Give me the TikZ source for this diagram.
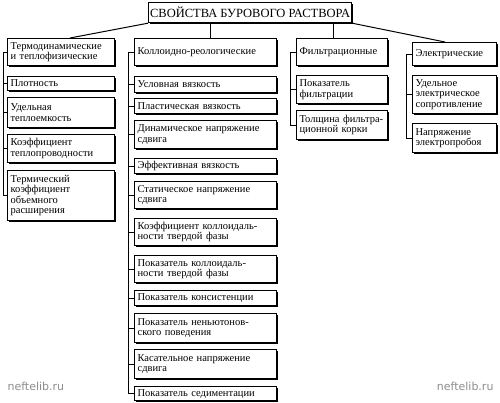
\documentclass[tikz,border=0pt]{standalone}
\usepackage{fontspec}
\setmainfont{Liberation Serif}
\setsansfont{DejaVu Sans}
\usetikzlibrary{shadows}
\tikzset{
  bx/.style={draw, line width=1.2pt, fill=white, anchor=north west, inner sep=2pt,
    align=left, font=\fontsize{10.5}{10.3}\selectfont,
    drop shadow={shadow xshift=1.3pt, shadow yshift=-1.3pt, fill=black, opacity=1}},
  ln/.style={line width=1pt},
  wm/.style={text=black!45, font=\sffamily\fontsize{11}{11}\selectfont}
}
\newcommand\bx[6]{\pgfmathsetmacro\tw{#4-6}%
  \node[bx, minimum width=#4pt, minimum height=#5pt, text width=\tw pt] (#1) at (#2,#3) {#6};}
\begin{document}
\begin{tikzpicture}[x=1pt,y=-1pt]
\useasboundingbox (0,0) rectangle (500,403);
% top
\node[bx, align=center, font=\fontsize{12.5}{12}\selectfont, minimum width=203pt, minimum height=20pt, inner sep=1pt] (top) at (148,2) {СВОЙСТВА БУРОВОГО РАСТВОРА};
% column 1
\bx{a0}{7}{38}{107}{27}{Термодинамические\\и теплофизические}
\bx{a1}{7}{76}{107}{14}{Плотность}
\bx{a2}{7}{97}{107}{30}{Удельная\\теплоемкость}
\bx{a3}{7}{134}{107}{28}{Коэффициент\\теплопроводности}
\bx{a4}{7}{170}{107}{50}{Термический\\коэффициент\\объемного\\расширения}
% column 2
\bx{b0}{134}{38}{142}{27}{Коллоидно-реологические}
\bx{b1}{134}{76}{142}{16}{Условная вязкость}
\bx{b2}{134}{98}{142}{15}{Пластическая вязкость}
\bx{b3}{134}{120}{142}{28}{Динамическое напряжение\\сдвига}
\bx{b4}{134}{158}{142}{15}{Эффективная вязкость}
\bx{b5}{134}{181}{142}{27}{Статическое напряжение\\сдвига}
\bx{b6}{134}{218}{142}{27}{Коэффициент коллоидаль-\\ности твердой фазы}
\bx{b7}{134}{255}{142}{27}{Показатель коллоидаль-\\ности твердой фазы}
\bx{b8}{134}{290}{142}{15}{Показатель консистенции}
\bx{b9}{134}{313}{142}{29}{Показатель неньютонов-\\ского поведения}
\bx{b10}{134}{349}{142}{29}{Касательное напряжение\\сдвига}
\bx{b11}{134}{386}{142}{14}{Показатель седиментации}
% column 3
\bx{c0}{296}{38}{91}{27}{Фильтрационные}
\bx{c1}{296}{75}{91}{28}{Показатель\\фильтрации}
\bx{c2}{296}{110}{91}{29}{Толщина фильтра-\\ционной корки}
% column 4
\bx{d0}{412}{42}{84}{23}{Электрические}
\bx{d1}{412}{75}{84}{38}{Удельное\\электрическое\\сопротивление}
\bx{d2}{412}{123}{84}{29}{Напряжение\\электропробоя}
% spines
\coordinate (va) at (3,0);
\coordinate (vb) at (128,0);
\coordinate (vc) at (290,0);
\coordinate (vd) at (406,0);
\draw[ln] (a0.west -| va) -- (a4.west -| va);
\foreach \n in {a0,a1,a2,a3,a4} \draw[ln] (\n.west) -- (\n.west -| va);
\draw[ln] (b0.west -| vb) -- (b11.west -| vb);
\foreach \n in {b0,b1,b2,b3,b4,b5,b6,b7,b8,b9,b10,b11} \draw[ln] (\n.west) -- (\n.west -| vb);
\draw[ln] (c0.west -| vc) -- (c2.west -| vc);
\foreach \n in {c0,c1,c2} \draw[ln] (\n.west) -- (\n.west -| vc);
\draw[ln] (d0.west -| vd) -- (d2.west -| vd);
\foreach \n in {d0,d1,d2} \draw[ln] (\n.west) -- (\n.west -| vd);
% top connectors
\coordinate (k1) at (70,38);
\coordinate (k2) at (210,0);
\coordinate (k3) at (333,0);
\coordinate (k4) at (445,42);
\draw[ln] (top.south west) -- (k1);
\draw[ln] (top.south -| k2) -- (b0.north -| k2);
\draw[ln] (top.south -| k3) -- (c0.north -| k3);
\draw[ln] (top.south east) -- (k4);
% watermarks
\node[wm, anchor=west] (w1) at (4,386) {neftelib.ru};
\node[wm, anchor=east] (w2) at (497,386) {neftelib.ru};
\end{tikzpicture}
\end{document}
